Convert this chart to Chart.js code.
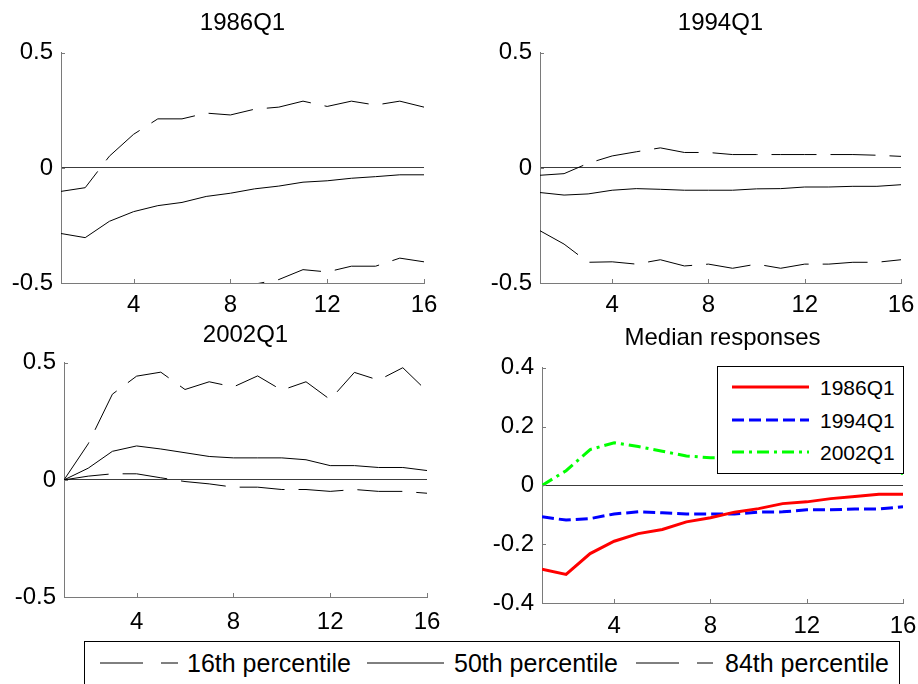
<!DOCTYPE html>
<html>
<head>
<meta charset="utf-8">
<script src="https://cdn.jsdelivr.net/npm/chart.js@4.4.1/dist/chart.umd.min.js"></script>
<style>
  html, body { margin: 0; padding: 0; background: #fff; }
  body { width: 918px; height: 684px; position: relative; overflow: hidden; font-family: "Liberation Sans", Arial, sans-serif; }
  .panel { position: absolute; width: 459px; height: 320px; }
  .lg { position: absolute; background: #fff; border: 1px solid #000; box-sizing: border-box; }
  .lgtext { position: absolute; color: #000; white-space: nowrap; line-height: 1; }
  svg.smp { position: absolute; overflow: visible; }
</style>
</head>
<body>
<div class="panel" style="left:0;top:0"><canvas id="c1" width="459" height="320"></canvas></div>
<div class="panel" style="left:459px;top:0"><canvas id="c2" width="459" height="320"></canvas></div>
<div class="panel" style="left:0;top:320px"><canvas id="c3" width="459" height="320"></canvas></div>
<div class="panel" style="left:459px;top:320px"><canvas id="c4" width="459" height="320"></canvas></div>

<!-- legend inside median panel -->
<div class="lg" style="left:717px;top:366px;width:187px;height:108px">
  <svg class="smp" style="left:14px;top:0" width="80" height="108">
    <line x1="0" y1="20" x2="77" y2="20" stroke="#ff0000" stroke-width="3"/>
    <line x1="0" y1="53" x2="77" y2="53" stroke="#0000ff" stroke-width="3" stroke-dasharray="12 5"/>
    <line x1="0" y1="85" x2="77" y2="85" stroke="#00ff00" stroke-width="3" stroke-dasharray="12 5 3 5"/>
  </svg>
  <span class="lgtext" style="left:102px;top:10px;font-size:21px">1986Q1</span>
  <span class="lgtext" style="left:102px;top:43px;font-size:21px">1994Q1</span>
  <span class="lgtext" style="left:102px;top:75px;font-size:21px">2002Q1</span>
</div>

<!-- bottom legend -->
<div class="lg" style="left:84px;top:641px;width:816px;height:60px">
  <svg class="smp" style="left:0;top:0" width="816" height="60">
    <line x1="15" y1="21" x2="93" y2="21" stroke="#000" stroke-width="1" stroke-dasharray="43 18"/>
    <line x1="282" y1="21" x2="359" y2="21" stroke="#000" stroke-width="1"/>
    <line x1="551" y1="21" x2="628" y2="21" stroke="#000" stroke-width="1" stroke-dasharray="43 18"/>
  </svg>
  <span class="lgtext" style="left:102px;top:9px;font-size:25px">16th percentile</span>
  <span class="lgtext" style="left:369px;top:9px;font-size:25px">50th percentile</span>
  <span class="lgtext" style="left:640px;top:9px;font-size:25px">84th percentile</span>
</div>

<script>
// ---------- data ----------
const horizon = [1,2,3,4,5,6,7,8,9,10,11,12,13,14,15,16];
const xTickValues = [4, 8, 12, 16];
const yTicksBands = [-0.5, 0, 0.5];
const yTicksMedian = [-0.4, -0.2, 0, 0.2, 0.4];

const titles = ['1986Q1', '1994Q1', '2002Q1', 'Median responses'];
const percentileNames = ['16th percentile', '50th percentile', '84th percentile'];

// 1986Q1
const p16_1986 = [-0.78,-0.82,-0.74,-0.68,-0.63,-0.59,-0.56,-0.54,-0.505,-0.485,-0.442,-0.452,-0.427,-0.427,-0.392,-0.408];
const p50_1986 = [-0.285,-0.303,-0.232,-0.19,-0.164,-0.15,-0.124,-0.11,-0.091,-0.079,-0.062,-0.056,-0.045,-0.038,-0.03,-0.03];
const p84_1986 = [-0.102,-0.086,0.051,0.146,0.213,0.213,0.238,0.23,0.255,0.264,0.29,0.267,0.29,0.273,0.29,0.264];

// 1994Q1
const p16_1994 = [-0.273,-0.331,-0.41,-0.408,-0.418,-0.399,-0.426,-0.418,-0.436,-0.418,-0.436,-0.418,-0.418,-0.41,-0.41,-0.399];
const p50_1994 = [-0.107,-0.118,-0.113,-0.097,-0.09,-0.093,-0.097,-0.097,-0.097,-0.091,-0.09,-0.083,-0.083,-0.08,-0.08,-0.073];
const p84_1994 = [-0.032,-0.025,0.02,0.052,0.07,0.087,0.067,0.067,0.058,0.058,0.058,0.058,0.058,0.058,0.055,0.05];

// 2002Q1
const p16_2002 = [0,0.016,0.026,0.026,0.009,-0.007,-0.017,-0.031,-0.031,-0.041,-0.041,-0.049,-0.041,-0.049,-0.049,-0.057];
const p50_2002 = [0,0.05,0.122,0.145,0.132,0.116,0.1,0.094,0.094,0.094,0.086,0.061,0.061,0.053,0.053,0.04];
const p84_2002 = [0,0.154,0.366,0.443,0.46,0.386,0.419,0.397,0.444,0.383,0.419,0.343,0.459,0.426,0.479,0.379];

// ---------- helpers ----------
const FONT = '"Liberation Sans", Arial, sans-serif';
const AXIS_COLOR = '#7a7a7a';
const ZERO_COLOR = '#3c3c3c';

const inwardTicks = {
  id: 'inwardTicks',
  afterDatasetsDraw(chart) {
    const {ctx, chartArea: a, scales: {x, y}} = chart;
    ctx.save();
    ctx.strokeStyle = AXIS_COLOR;
    ctx.lineWidth = 1;
    ctx.beginPath();
    x.ticks.forEach(t => {
      const px = Math.round(x.getPixelForValue(t.value)) + 0.5;
      ctx.moveTo(px, a.bottom); ctx.lineTo(px, a.bottom - 4);
    });
    y.ticks.forEach(t => {
      const py = Math.round(y.getPixelForValue(t.value)) + 0.5;
      ctx.moveTo(a.left, py); ctx.lineTo(a.left + 4, py);
    });
    ctx.stroke();
    ctx.restore();
  }
};

function band(data, dashed) {
  return {
    data: data,
    borderColor: '#000',
    borderWidth: 1,
    borderDash: dashed ? [45, 14] : [],
    pointRadius: 0,
    tension: 0,
    fill: false,
    clip: 0
  };
}

function makeChart(id, title, datasets, yTicks, geo) {
  const [yMin, yMax] = [yTicks[0], yTicks[yTicks.length - 1]];
  return new Chart(document.getElementById(id), {
    type: 'line',
    data: { labels: horizon, datasets: datasets },
    options: {
      responsive: false,
      animation: false,
      devicePixelRatio: 1,
      events: [],
      layout: { padding: { left: 0, right: geo.right, top: 0, bottom: 0 } },
      plugins: {
        legend: { display: false },
        tooltip: { enabled: false },
        title: {
          display: true, text: title, color: '#000', fullSize: false,
          font: { family: FONT, size: 24, weight: 'normal' },
          padding: { top: geo.tTop, bottom: geo.tBottom }
        }
      },
      scales: {
        x: {
          type: 'linear', min: 1, max: 16,
          afterBuildTicks: s => { s.ticks = xTickValues.map(v => ({ value: v })); },
          afterFit: s => { s.height = geo.xh; },
          grid: { display: false },
          border: { display: true, color: AXIS_COLOR, width: 1 },
          ticks: { color: '#000', font: { family: FONT, size: 24 }, padding: geo.xpad, maxRotation: 0, autoSkip: false,
                   callback: v => String(v) }
        },
        y: {
          min: yMin, max: yMax,
          afterBuildTicks: s => { s.ticks = yTicks.map(v => ({ value: v })); },
          afterFit: s => { s.width = geo.yw; },
          grid: {
            display: true, drawTicks: false, lineWidth: 1,
            color: c => (c.tick && Math.abs(c.tick.value) < 1e-9) ? ZERO_COLOR : 'rgba(0,0,0,0)'
          },
          border: { display: true, color: AXIS_COLOR, width: 1 },
          ticks: { color: '#000', font: { family: FONT, size: 24 }, padding: 8,
                   callback: v => String(Math.round(v * 10) / 10) }
        }
      }
    },
    plugins: [inwardTicks]
  });
}

makeChart('c1', titles[0],
  [band(p16_1986, true), band(p50_1986, false), band(p84_1986, true)],
  yTicksBands, { yw: 61, right: 35, xh: 37, tTop: 9, tBottom: 15, xpad: 0 });

makeChart('c2', titles[1],
  [band(p16_1994, true), band(p50_1994, false), band(p84_1994, true)],
  yTicksBands, { yw: 81, right: 17, xh: 37, tTop: 9, tBottom: 15, xpad: 0 });

makeChart('c3', titles[2],
  [band(p16_2002, true), band(p50_2002, false), band(p84_2002, true)],
  yTicksBands, { yw: 64, right: 32, xh: 43, tTop: 1, tBottom: 13, xpad: 3 });

makeChart('c4', titles[3], [
  { data: p50_1986, borderColor: '#ff0000', borderWidth: 3, pointRadius: 0, tension: 0, clip: 0 },
  { data: p50_1994, borderColor: '#0000ff', borderWidth: 3, borderDash: [12, 5], pointRadius: 0, tension: 0, clip: 0 },
  { data: p50_2002, borderColor: '#00ff00', borderWidth: 3, borderDash: [12, 5, 3, 5], pointRadius: 0, tension: 0, clip: 0 }
], yTicksMedian, { yw: 83, right: 15, xh: 37, tTop: 4, tBottom: 15, xpad: 1 });
</script>
</body>
</html>
